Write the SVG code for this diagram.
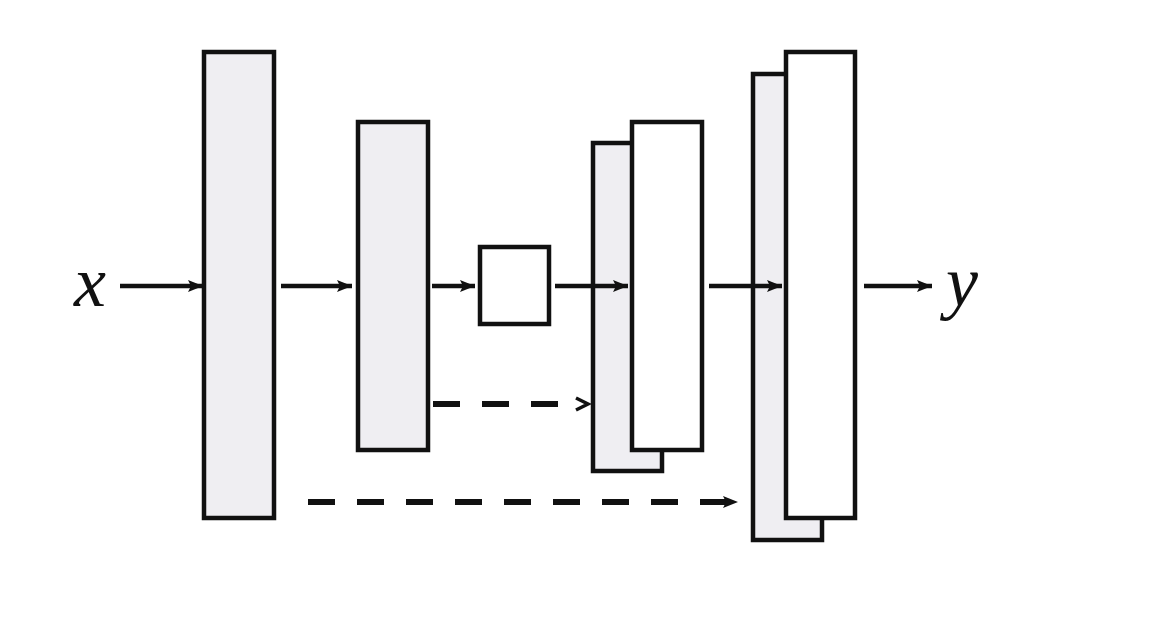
<svg xmlns="http://www.w3.org/2000/svg" width="1161" height="619" viewBox="0 0 1161 619">
<style>
.g{fill:#efeef2;stroke:#111;stroke-width:4.5}
.w{fill:#fff;stroke:#111;stroke-width:4.5}
.a{stroke:#111;stroke-width:4.5;fill:none}
.d{stroke:#111;stroke-width:6;fill:none;stroke-dasharray:27 22}
.t{font-family:"Liberation Serif",serif;font-style:italic;font-size:72px;fill:#111}
</style>
<defs>
<marker id="ah" markerWidth="16" markerHeight="14" refX="15" refY="7" orient="auto" markerUnits="userSpaceOnUse">
<path d="M0,1 L15,7 L0,13 L3,7 Z" fill="#111"/>
</marker>
</defs>
<rect width="1161" height="619" fill="#fff"/>
<g id="label-x"><text class="t" x="74" y="306">x</text></g>
<g id="label-y"><text class="t" x="946" y="306">y</text></g>
<g id="enc1"><rect class="g" x="204" y="52" width="70" height="466"/></g>
<g id="enc2"><rect class="g" x="358" y="122" width="70" height="328"/></g>
<g id="bottleneck"><rect class="w" x="480" y="247" width="69" height="77"/></g>
<g id="dec1"><rect class="g" x="593" y="143" width="69" height="328"/><rect class="w" x="632" y="122" width="70" height="328"/></g>
<g id="dec2"><rect class="g" x="753" y="74" width="69" height="466"/><rect class="w" x="786" y="52" width="69" height="466"/></g>
<g id="connectors">
<line class="a" x1="120" y1="286" x2="203" y2="286" marker-end="url(#ah)"/>
<line class="a" x1="281" y1="286" x2="352" y2="286" marker-end="url(#ah)"/>
<line class="a" x1="432" y1="286" x2="475" y2="286" marker-end="url(#ah)"/>
<line class="a" x1="555" y1="286" x2="628" y2="286" marker-end="url(#ah)"/>
<line class="a" x1="709" y1="286" x2="782" y2="286" marker-end="url(#ah)"/>
<line class="a" x1="864" y1="286" x2="932" y2="286" marker-end="url(#ah)"/>
<line class="d" x1="433" y1="404" x2="560" y2="404"/>
<path d="M576,398 L588,404 L576,410" fill="none" stroke="#111" stroke-width="3.5"/>
<line class="d" x1="308" y1="502" x2="738" y2="502" marker-end="url(#ah)"/>
</g>
</svg>
